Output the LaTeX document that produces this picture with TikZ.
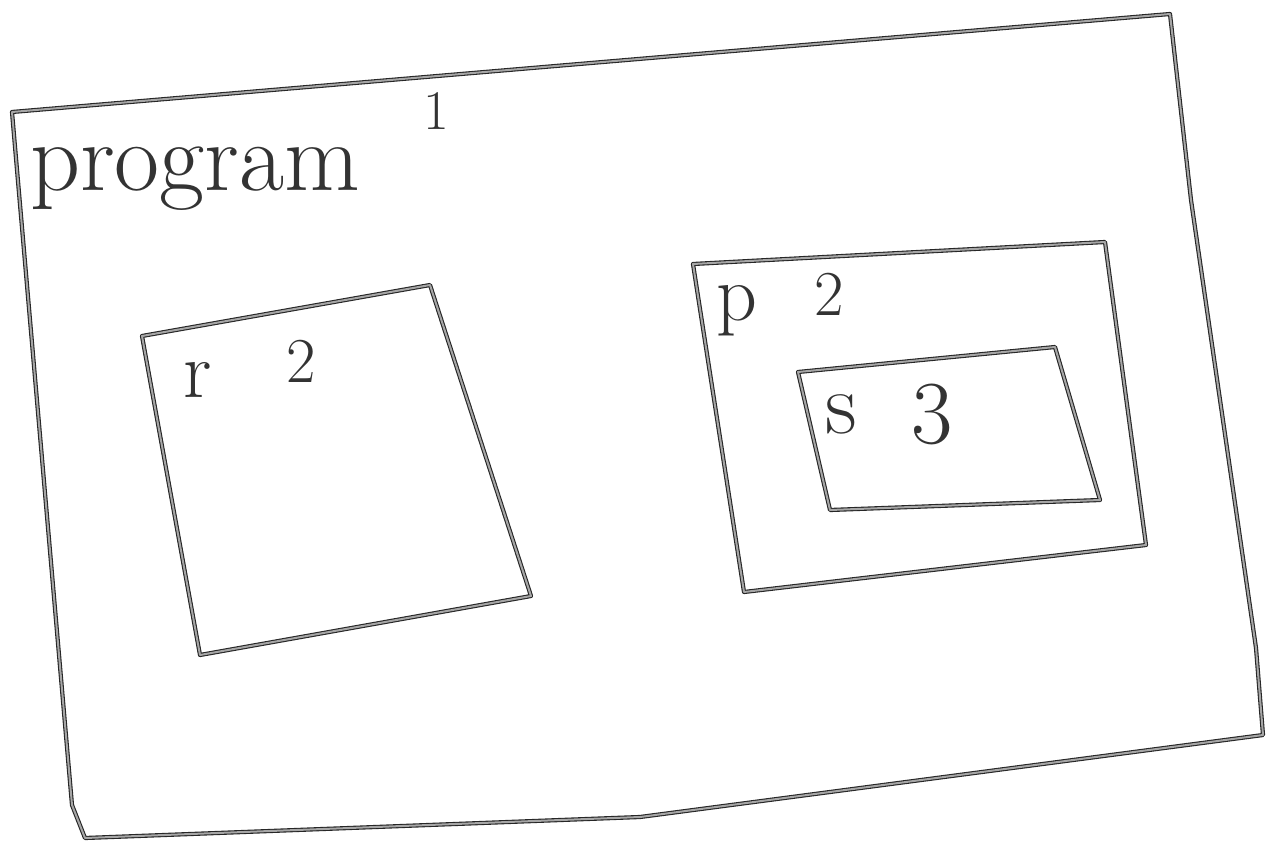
\documentclass[tikz,border=0pt]{standalone}
\usepackage{tikz}

\begin{document}
\begin{tikzpicture}[x=1pt,y=-1pt,
  pen/.style={draw=black!85,line width=1.1pt,double=black!35,double distance=2pt,
    line join=round,line cap=round},
  lbl/.style={font=\fontsize{80}{80}\selectfont,text=black!80,inner sep=0pt,anchor=base}]
  \useasboundingbox (0,0) rectangle (1269,848);
  % outer box
  \draw[pen] (12,112) -- (1170,14) -- (1191,200) -- (1256,648) -- (1263,735)
    -- (640,817) -- (85,838) -- (72,805) -- cycle;
  \node[lbl,font=\fontsize{98}{98}\selectfont,anchor=base west] (prog) at (30,190) {program};
  \node[lbl,font=\fontsize{56}{56}\selectfont] (one) at (436,130) {1};
  % box r
  \draw[pen] (142,336) -- (430,285) -- (531,596) -- (200,655) -- cycle;
  \node[lbl] (r) at (198,397) {r};
  \node[lbl,font=\fontsize{64}{64}\selectfont] (rtwo) at (301,382) {2};
  % box p
  \draw[pen] (693,264) -- (1105,242) -- (1146,545) -- (744,592) -- cycle;
  \node[lbl] (p) at (737,320) {p};
  \node[lbl,font=\fontsize{64}{64}\selectfont] (ptwo) at (829,315) {2};
  % box s inside p
  \draw[pen] (798,372) -- (1055,347) -- (1100,500) -- (830,510) -- cycle;
  \node[lbl,font=\fontsize{88}{88}\selectfont] (s) at (841,433) {s};
  \node[lbl,font=\fontsize{90}{90}\selectfont] (sthree) at (932,443) {3};
\end{tikzpicture}
\end{document}
